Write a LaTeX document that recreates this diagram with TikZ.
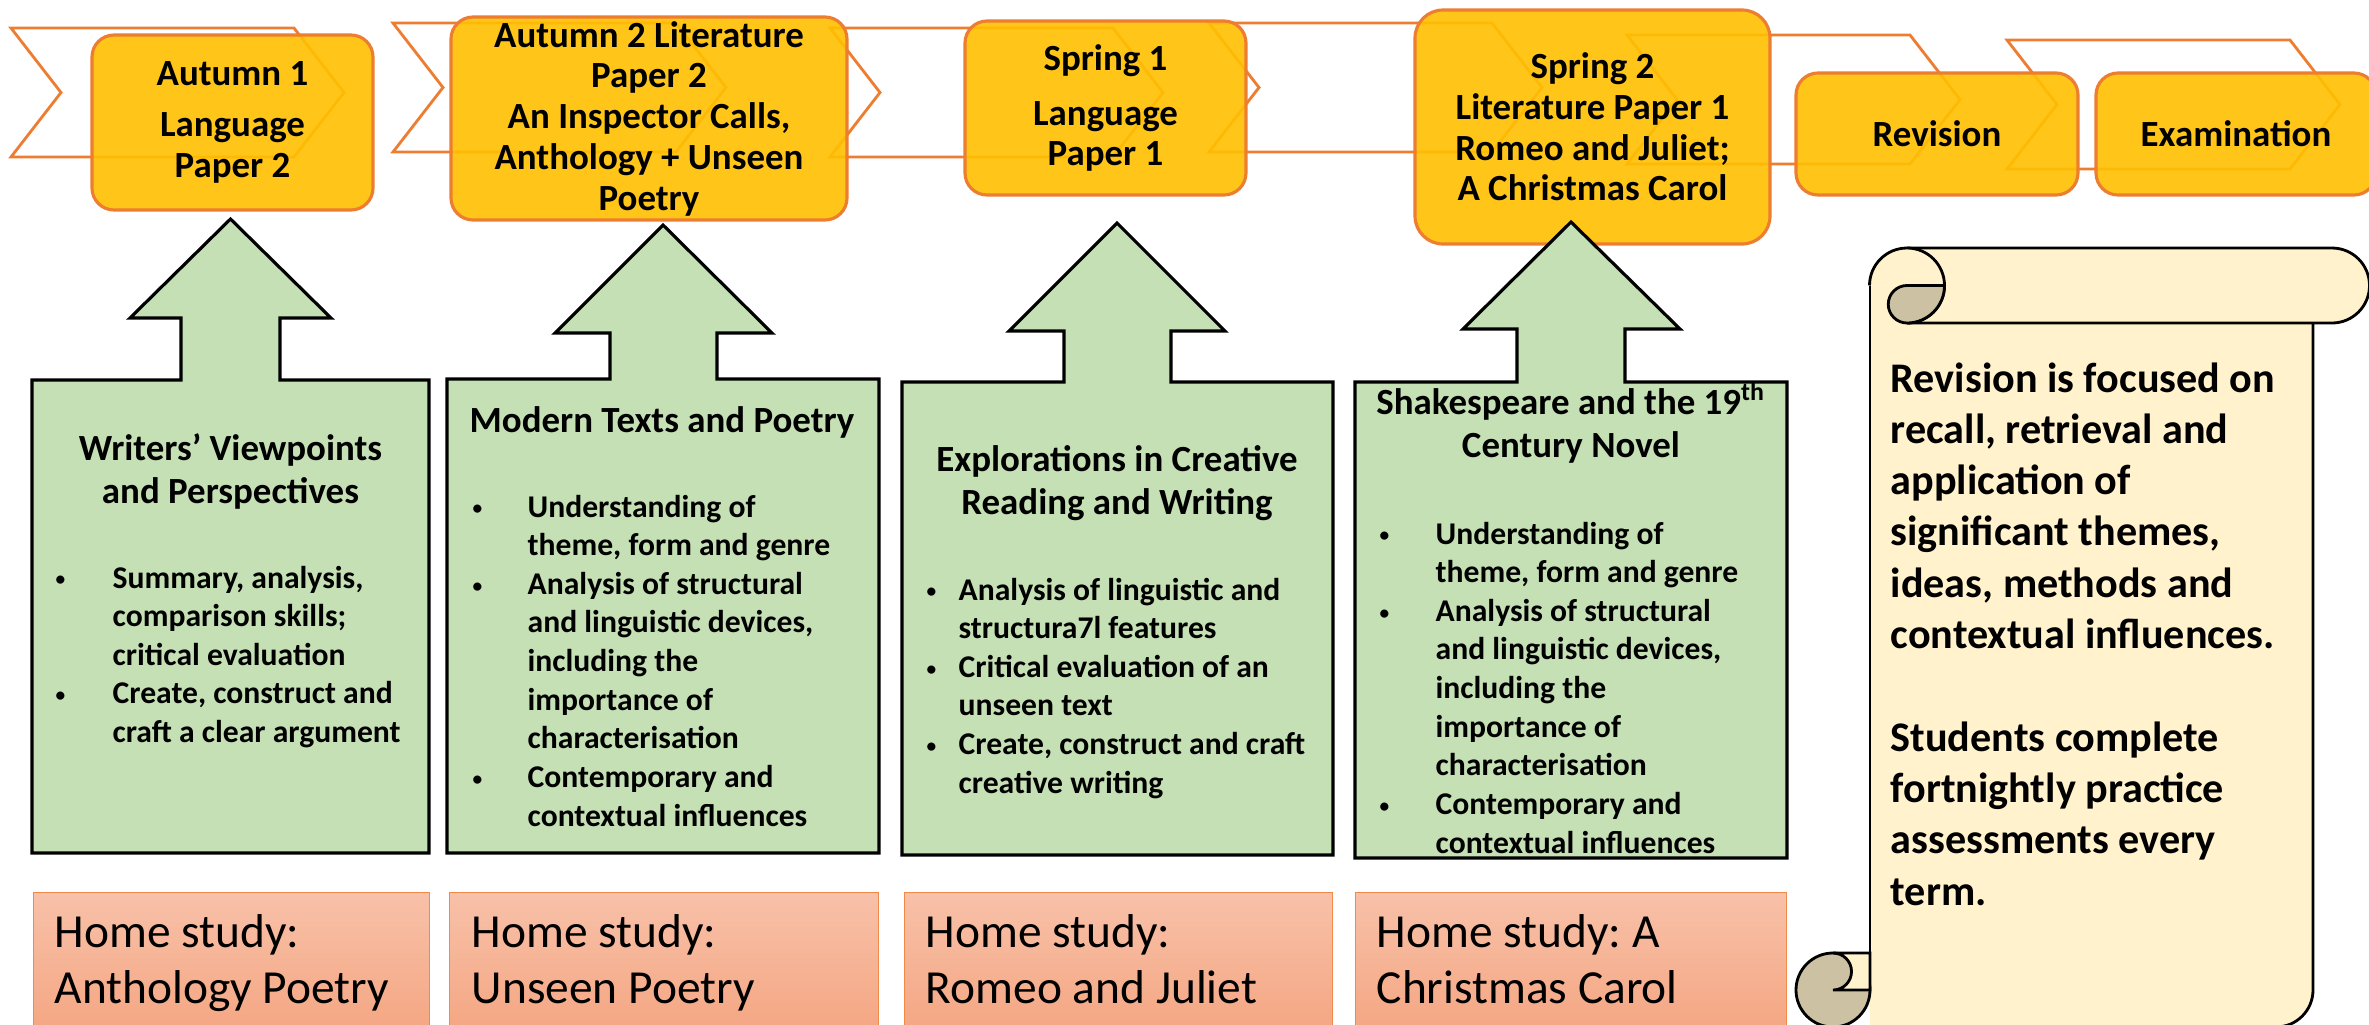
\documentclass[tikz,border=0pt]{standalone}
\usepackage{fontspec}
\setmainfont{Carlito}
\frenchspacing
\definecolor{termfill}{HTML}{FFC000}
\definecolor{termline}{HTML}{ED7D31}
\definecolor{chevline}{HTML}{ED7D31}
\definecolor{unitfill}{HTML}{C5E0B4}
\definecolor{hometop}{HTML}{F8C1A9}
\definecolor{homebot}{HTML}{F4A47F}
\definecolor{homeline}{HTML}{F08A4B}
\definecolor{scrollfill}{HTML}{FFF2CC}
\definecolor{curlfill}{HTML}{CCC2A3}
\usepackage{tikz}
\newcommand{\dotmark}{\raisebox{0.6pt}{\fontsize{5.5}{5.5}\selectfont\textbullet}}

\begin{document}
\begin{tikzpicture}[
    chev/.style={draw=chevline, line width=0.8pt, fill=white},
    termbox/.style={rounded corners=2.2mm, draw=termline, fill=termfill, fill opacity=0.9, text opacity=1, line width=0.9pt, inner sep=0pt, align=center, font=\fontsize{10.5}{11.6}\selectfont\bfseries},
    unitbox/.style={draw=black, fill=unitfill, line width=0.9pt},
    unittitle/.style={inner sep=0pt, font=\fontsize{10.5}{12.5}\selectfont\bfseries},
    unitlist/.style={inner sep=0pt, anchor=base west, font=\fontsize{9}{11}\selectfont\bfseries},
    homebox/.style={draw=homeline, line width=0.4pt, top color=hometop, bottom color=homebot, minimum height=1.5cm, anchor=north west, inner sep=0pt},
    hometext/.style={inner sep=0pt, anchor=base west, font=\fontsize{13.5}{16}\selectfont},
    scrollbox/.style={draw=black, fill=scrollfill, line width=0.8pt},
    scrolledge/.style={draw=black, line width=0.8pt},
    curlbox/.style={draw=black, fill=curlfill, line width=0.8pt}
]
    \useasboundingbox[fill=white] (0,0) rectangle (23.69,-10.24);
    \clip (0,0) rectangle (23.69,-10.24);

    \foreach \cx/\cy in {0.11/0.28, 3.93/0.23, 8.30/0.28, 12.09/0.23, 16.27/0.35, 20.07/0.40}
        \draw[chev] (\cx,-\cy) -- ++(2.83,0) -- ++(0.5,-0.645) -- ++(-0.5,-0.645) -- ++(-2.83,0) -- ++(0.5,0.645) -- cycle;

    \node[termbox, minimum width=2.81cm, minimum height=1.75cm] (aut1) at (2.325,-1.225) {Autumn 1\\[3pt]Language\\Paper 2};
    \node[termbox, minimum width=3.96cm, minimum height=2.03cm] (aut2) at (6.49,-1.185) {Autumn 2 Literature\\Paper 2\\An Inspector Calls,\\Anthology + Unseen\\Poetry};
    \node[termbox, minimum width=2.81cm, minimum height=1.74cm] (spr1) at (11.055,-1.08) {Spring 1\\[4pt]Language\\Paper 1};
    \node[termbox, minimum width=3.55cm, minimum height=2.34cm, rounded corners=2.8mm] (spr2) at (15.925,-1.27) {Spring 2\\Literature Paper 1\\Romeo and Juliet;\\A Christmas Carol};
    \node[termbox, minimum width=2.82cm, minimum height=1.22cm] (rev) at (19.37,-1.34) {Revision};
    \node[termbox, minimum width=2.80cm, minimum height=1.22cm] (exam) at (22.36,-1.34) {Examination};

    \draw[unitbox] (0.32,-8.53) -- (0.32,-3.80) -- (1.81,-3.80) -- (1.81,-3.18) -- (1.30,-3.18) -- (2.305,-2.19) -- (3.31,-3.18) -- (2.80,-3.18) -- (2.80,-3.80) -- (4.29,-3.80) -- (4.29,-8.53) -- cycle;
    \draw[unitbox] (4.47,-8.53) -- (4.47,-3.79) -- (6.10,-3.79) -- (6.10,-3.33) -- (5.55,-3.33) -- (6.63,-2.25) -- (7.72,-3.33) -- (7.17,-3.33) -- (7.17,-3.79) -- (8.79,-3.79) -- (8.79,-8.53) -- cycle;
    \draw[unitbox] (9.02,-8.55) -- (9.02,-3.82) -- (10.64,-3.82) -- (10.64,-3.31) -- (10.09,-3.31) -- (11.17,-2.23) -- (12.25,-3.31) -- (11.71,-3.31) -- (11.71,-3.82) -- (13.33,-3.82) -- (13.33,-8.55) -- cycle;
    \draw[unitbox] (13.55,-8.58) -- (13.55,-3.82) -- (15.17,-3.82) -- (15.17,-3.29) -- (14.63,-3.29) -- (15.71,-2.22) -- (16.80,-3.29) -- (16.25,-3.29) -- (16.25,-3.82) -- (17.87,-3.82) -- (17.87,-8.58) -- cycle;

    \node[unittitle, anchor=base] (wv) at (2.305,-4.60) {\begin{tabular}[t]{@{}c@{}}Writers’ Viewpoints\\and Perspectives\end{tabular}};
    \node[unitlist] (wvl) at (0.55,-5.88) {\begin{tabular}[t]{@{}p{0.57cm}@{}l@{}}\dotmark & Summary, analysis,\\ & comparison skills;\\ & critical evaluation\\ \dotmark & Create, construct and\\ & craft a clear argument\end{tabular}};

    \node[unittitle, anchor=base west] (mt) at (4.69,-4.32) {Modern Texts and Poetry};
    \node[unitlist] (mtl) at (4.72,-5.17) {\begin{tabular}[t]{@{}p{0.55cm}@{}l@{}}\dotmark & Understanding of\\ & theme, form and genre\\ \dotmark & Analysis of structural\\ & and linguistic devices,\\ & including the\\ & importance of\\ & characterisation\\ \dotmark & Contemporary and\\ & contextual influences\end{tabular}};

    \node[unittitle, anchor=base] (ex) at (11.17,-4.71) {\begin{tabular}[t]{@{}c@{}}Explorations in Creative\\Reading and Writing\end{tabular}};
    \node[unitlist] (exl) at (9.26,-6.00) {\begin{tabular}[t]{@{}p{0.32cm}@{}l@{}}\dotmark & Analysis of linguistic and\\ & structura7l features\\ \dotmark & Critical evaluation of an\\ & unseen text\\ \dotmark & Create, construct and craft\\ & creative writing\end{tabular}};

    \node[unittitle, anchor=base] (sh) at (15.71,-4.14) {\begin{tabular}[t]{@{}c@{}}Shakespeare and the 19\textsuperscript{th}\\Century Novel\end{tabular}};
    \node[unitlist] (shl) at (13.79,-5.44) {\begin{tabular}[t]{@{}p{0.56cm}@{}l@{}}\dotmark & Understanding of\\ & theme, form and genre\\ \dotmark & Analysis of structural\\ & and linguistic devices,\\ & including the\\ & importance of\\ & characterisation\\ \dotmark & Contemporary and\\ & contextual influences\end{tabular}};

    \node[homebox, minimum width=3.96cm] (hm1) at (0.33,-8.92) {};
    \node[homebox, minimum width=4.29cm] (hm2) at (4.49,-8.92) {};
    \node[homebox, minimum width=4.28cm] (hm3) at (9.04,-8.92) {};
    \node[homebox, minimum width=4.31cm] (hm4) at (13.55,-8.92) {};
    \node[hometext] (hm1t) at (0.54,-9.47) {\begin{tabular}[t]{@{}l@{}}Home study:\\Anthology Poetry\end{tabular}};
    \node[hometext] (hm2t) at (4.71,-9.47) {\begin{tabular}[t]{@{}l@{}}Home study:\\Unseen Poetry\end{tabular}};
    \node[hometext] (hm3t) at (9.25,-9.47) {\begin{tabular}[t]{@{}l@{}}Home study:\\Romeo and Juliet\end{tabular}};
    \node[hometext] (hm4t) at (13.76,-9.47) {\begin{tabular}[t]{@{}l@{}}Home study: A\\Christmas Carol\end{tabular}};

    \fill[scrollfill] (18.70,-2.855) -- (18.70,-10.27) -- (22.76,-10.27) arc[start angle=270, end angle=360, radius=0.37] -- (23.13,-2.855) -- cycle;
    \draw[scrolledge] (18.70,-2.855) -- (18.70,-9.53);
    \draw[scrolledge] (23.13,-3.23) -- (23.13,-9.90) arc[start angle=0, end angle=-90, radius=0.37] -- (18.33,-10.27);
    \filldraw[scrollbox] (19.07,-2.48) -- (23.32,-2.48) arc[start angle=90, end angle=-90, radius=0.375] -- (19.07,-3.23);
    \fill[scrollfill] (19.07,-2.855) -- (18.695,-2.855) arc[start angle=180, end angle=-90, radius=0.375] -- cycle;
    \draw[scrolledge] (18.695,-2.855) arc[start angle=180, end angle=-90, radius=0.375];
    \filldraw[curlbox] (19.445,-2.855) -- (19.07,-2.855) arc[start angle=90, end angle=270, radius=0.1875] arc[start angle=270, end angle=360, radius=0.375] -- cycle;
    \filldraw[curlbox] (18.33,-9.90) circle[radius=0.37];
    \filldraw[scrollbox] (18.33,-9.53) -- (18.70,-9.53) -- (18.70,-9.90) -- (18.33,-9.90) arc[start angle=-90, end angle=90, radius=0.185] -- cycle;

    \node[inner sep=0pt, anchor=base west, font=\fontsize{12}{14.6}\selectfont\bfseries] (note) at (18.90,-3.92) {\begin{tabular}[t]{@{}l@{}}Revision is focused on\\recall, retrieval and\\application of\\significant themes,\\ideas, methods and\\contextual influences.\\ \\Students complete\\fortnightly practice\\assessments every\\term.\end{tabular}};
\end{tikzpicture}
\end{document}
